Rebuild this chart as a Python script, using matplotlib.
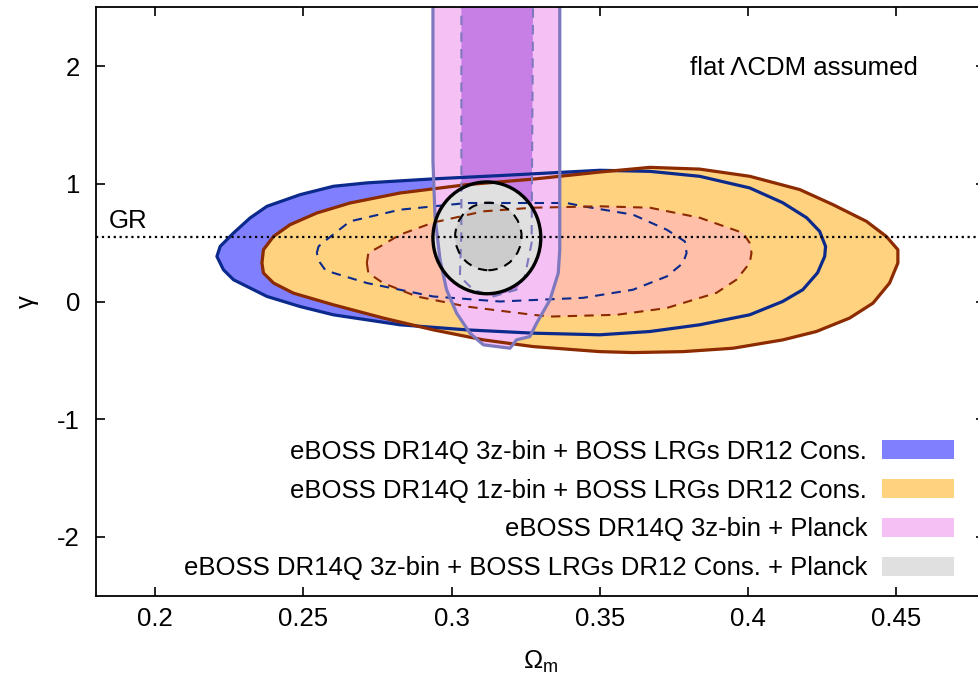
import matplotlib
matplotlib.use("Agg")
import matplotlib.pyplot as plt
from matplotlib.patches import Polygon, Ellipse, Patch

plt.rcParams['font.family'] = ['Liberation Sans', 'DejaVu Sans']
plt.rcParams['mathtext.fontset'] = 'custom'
plt.rcParams['mathtext.rm'] = 'Liberation Sans'
plt.rcParams['mathtext.it'] = 'Liberation Sans:italic'

# ---------------- data ----------------
# eBOSS DR14Q 3z-bin + BOSS LRGs DR12 Cons. : 2-sigma boundary
z3_2s_om = [0.2208, 0.2219, 0.2264, 0.2320, 0.2377, 0.2489, 0.2601, 0.2714, 0.2938, 0.3163,
            0.3500, 0.3669, 0.3837, 0.4006, 0.4117, 0.4198, 0.4242, 0.4262, 0.4259, 0.4235,
            0.4185, 0.4117, 0.4006, 0.3837, 0.3669, 0.3500, 0.3275, 0.3051, 0.2826, 0.2601,
            0.2489, 0.2377, 0.2264, 0.2230]
z3_2s_g = [0.383, 0.468, 0.582, 0.710, 0.809, 0.908, 0.979, 1.008, 1.042, 1.070,
           1.115, 1.106, 1.064, 0.965, 0.840, 0.712, 0.596, 0.468, 0.383, 0.244,
           0.100, 0.000, -0.113, -0.198, -0.255, -0.283, -0.269, -0.241, -0.198, -0.113,
           -0.043, 0.043, 0.185, 0.270]
# 1-sigma boundary
z3_1s_om = [0.2545, 0.2551, 0.2578, 0.2657, 0.2826, 0.3051, 0.3388, 0.3444, 0.3612, 0.3726,
            0.3787, 0.3793, 0.3781, 0.3726, 0.3612, 0.3443, 0.3163, 0.2937, 0.2714, 0.2600,
            0.2573, 0.2556]
z3_1s_g = [0.412, 0.468, 0.525, 0.681, 0.780, 0.837, 0.837, 0.809, 0.738, 0.610,
           0.511, 0.412, 0.327, 0.213, 0.100, 0.031, 0.000, 0.043, 0.157, 0.244,
           0.270, 0.330]

# eBOSS DR14Q 1z-bin + BOSS LRGs DR12 Cons.
z1_2s_om = [0.2360, 0.2365, 0.2399, 0.2455, 0.2545, 0.2657, 0.2826, 0.3051, 0.3275, 0.3500,
            0.3669, 0.3837, 0.4006, 0.4175, 0.4287, 0.4400, 0.4467, 0.4506, 0.4506, 0.4478,
            0.4422, 0.4343, 0.4231, 0.4118, 0.3950, 0.3781, 0.3613, 0.3500, 0.3275, 0.3107,
            0.2938, 0.2770, 0.2601, 0.2466, 0.2399, 0.2365]
z1_2s_g = [0.327, 0.440, 0.553, 0.653, 0.752, 0.837, 0.922, 0.993, 1.040, 1.100,
           1.140, 1.125, 1.064, 0.951, 0.823, 0.681, 0.553, 0.440, 0.327, 0.157,
           -0.014, -0.141, -0.255, -0.326, -0.397, -0.426, -0.434, -0.426, -0.383, -0.326,
           -0.241, -0.141, -0.028, 0.071, 0.157, 0.242]
z1_1s_om = [0.2714, 0.2719, 0.2759, 0.2826, 0.2937, 0.3106, 0.3274, 0.3500, 0.3669, 0.3837,
            0.3984, 0.4006, 0.4012, 0.4006, 0.3961, 0.3894, 0.3725, 0.3557, 0.3332, 0.3274,
            0.3051, 0.2882, 0.2769, 0.2719]
z1_1s_g = [0.327, 0.412, 0.468, 0.568, 0.670, 0.766, 0.797, 0.809, 0.797, 0.712,
           0.582, 0.497, 0.412, 0.327, 0.185, 0.074, -0.056, -0.113, -0.128, -0.113,
           -0.043, 0.043, 0.157, 0.242]

# eBOSS DR14Q 3z-bin + Planck
pl_2s_om = [0.2937, 0.2937, 0.2944, 0.2961, 0.2983, 0.3017, 0.3062, 0.3107, 0.3197, 0.3219,
            0.3264, 0.3287, 0.3332, 0.3360, 0.3365, 0.3365]
pl_2s_g = [3.0, 1.2, 0.723, 0.355, 0.10, -0.099, -0.269, -0.368, -0.397, -0.326,
           -0.298, -0.184, 0.014, 0.242, 0.44, 3.0]
pl_1s_om = [0.3033, 0.3033, 0.3028, 0.3073, 0.3141, 0.3219, 0.3247, 0.3270, 0.3276]
pl_1s_g = [3.0, 0.6, 0.213, 0.10, 0.043, 0.10, 0.213, 0.497, 3.0]

# eBOSS DR14Q 3z-bin + BOSS LRGs DR12 Cons. + Planck (centre, half-widths)
all_center = [0.3119, 0.541]
all_2s_half = [0.0182, 0.475]
all_1s_center = [0.3124, 0.553]
all_1s_half = [0.0112, 0.287]

gamma_GR = 0.545

legend_labels = ["eBOSS DR14Q 3z-bin + BOSS LRGs DR12 Cons.",
                 "eBOSS DR14Q 1z-bin + BOSS LRGs DR12 Cons.",
                 "eBOSS DR14Q 3z-bin + Planck",
                 "eBOSS DR14Q 3z-bin + BOSS LRGs DR12 Cons. + Planck"]
xticks = [0.2, 0.25, 0.3, 0.35, 0.4, 0.45]
xtick_labels = ["0.2", "0.25", "0.3", "0.35", "0.4", "0.45"]
yticks = [-2, -1, 0, 1, 2]
ytick_labels = ["-2", "-1", "0", "1", "2"]

# ---------------- styles ----------------
c_blue_fill = "#8080FF"
c_blue_line = "#0B2A8C"
c_orange_fill = "#FFD280"
c_brown_line = "#8C2A00"
c_salmon_fill = "#FFBFA8"
c_pink_fill = "#F5C1F5"
c_purple_fill = "#C77FE6"
c_slate_line = "#7E78BE"
c_grey_out = "#E0E0E0"
c_grey_in = "#CCCCCC"
FS = 18.5

fig = plt.figure(figsize=(9.79, 6.78), dpi=100)
ax = fig.add_axes([96 / 979, (678 - 595.7) / 678, (985 - 96) / 979, (595.7 - 7.3) / 678])
ax.set_xlim(0.18, 0.48)
ax.set_ylim(-2.5, 2.5)


def poly(om, g, **kw):
    p = Polygon(list(zip(om, g)), closed=True, joinstyle='round', **kw)
    ax.add_patch(p)
    return p


# fills
poly(z3_2s_om, z3_2s_g, facecolor=c_blue_fill, edgecolor='none', zorder=1)
poly(z1_2s_om, z1_2s_g, facecolor=c_orange_fill, edgecolor='none', zorder=2)
poly(z1_1s_om, z1_1s_g, facecolor=c_salmon_fill, edgecolor='none', zorder=3)
poly(pl_2s_om, pl_2s_g, facecolor=c_pink_fill, edgecolor='none', zorder=4)
poly(pl_1s_om, pl_1s_g, facecolor=c_purple_fill, edgecolor='none', zorder=5)
ax.add_patch(Ellipse(all_center, 2 * all_2s_half[0], 2 * all_2s_half[1],
                     facecolor=c_grey_out, edgecolor='none', zorder=6))
ax.add_patch(Ellipse(all_1s_center, 2 * all_1s_half[0], 2 * all_1s_half[1],
                     facecolor=c_grey_in, edgecolor='none', zorder=7))

# lines
dash = (0, (4.5, 3.5))
poly(z3_2s_om, z3_2s_g, fill=False, edgecolor=c_blue_line, lw=2.3, zorder=10)
poly(z1_2s_om, z1_2s_g, fill=False, edgecolor=c_brown_line, lw=2.3, zorder=10)
poly(z3_1s_om, z3_1s_g, fill=False, edgecolor=c_blue_line, lw=1.5, ls=dash, zorder=10)
poly(z1_1s_om, z1_1s_g, fill=False, edgecolor=c_brown_line, lw=1.5, ls=dash, zorder=10)
poly(pl_2s_om, pl_2s_g, fill=False, edgecolor=c_slate_line, lw=2.3, zorder=11)
poly(pl_1s_om, pl_1s_g, fill=False, edgecolor=c_slate_line, lw=1.5, ls=dash, zorder=11)
ax.add_patch(Ellipse(all_center, 2 * all_2s_half[0], 2 * all_2s_half[1],
                     fill=False, edgecolor='black', lw=2.4, zorder=12))
ax.add_patch(Ellipse(all_1s_center, 2 * all_1s_half[0], 2 * all_1s_half[1],
                     fill=False, edgecolor='black', lw=1.5, ls=dash, zorder=12))

ax.axhline(gamma_GR, color='black', ls=':', lw=1.6, zorder=13)
ax.text(0.1842, 0.627, "GR", fontsize=FS, ha='left', va='baseline', zorder=14)
ax.text(0.4572, 1.921, "flat \u039bCDM assumed", fontsize=FS, ha='right', va='baseline', zorder=14)

# axes styling
ax.set_xticks(xticks)
ax.set_xticklabels(xtick_labels)
ax.set_yticks(yticks)
ax.set_yticklabels(ytick_labels)
ax.tick_params(direction='in', length=6.5, width=1.2, top=True, right=True, labelsize=FS)
ax.tick_params(axis='x', pad=8)
ax.tick_params(axis='y', pad=11.5)
for s in ax.spines.values():
    s.set_linewidth(1.3)
    s.set_zorder(20)

ax.set_xlabel(r"$\Omega_\mathrm{m}$", fontsize=FS)
ax.xaxis.set_label_coords(0.5, -0.090)
ax.set_ylabel("\u03b3", fontsize=FS)
ax.yaxis.set_label_coords(-0.064, 0.5)

handles = [Patch(facecolor=c, edgecolor='none') for c in
           [c_blue_fill, c_orange_fill, c_pink_fill, c_grey_out]]
leg = ax.legend(handles, legend_labels, loc='lower right', bbox_to_anchor=(0.9651, 0.026),
                markerfirst=False, frameon=False, fontsize=FS, handlelength=2.8,
                handleheight=0.74, handletextpad=0.58, labelspacing=0.58,
                borderpad=0, borderaxespad=0)
leg.set_zorder(30)

fig.savefig("out.png", dpi=100)
